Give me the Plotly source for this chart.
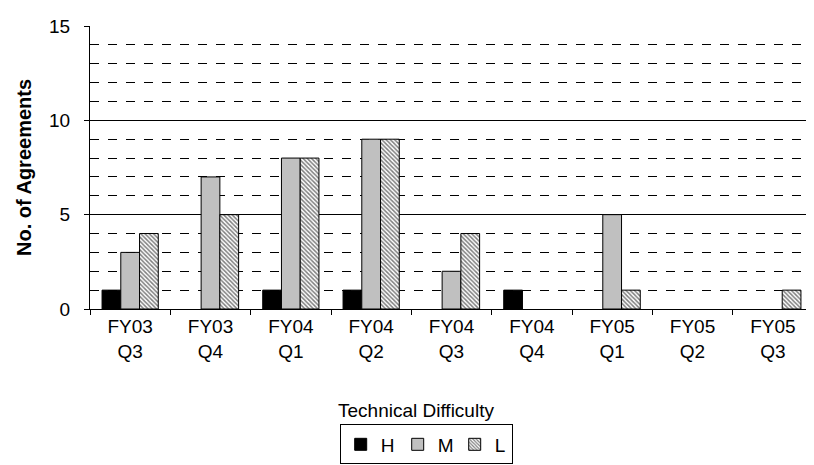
import plotly.graph_objects as go

categories = ["FY03<br>Q3", "FY03<br>Q4", "FY04<br>Q1", "FY04<br>Q2", "FY04<br>Q3",
              "FY04<br>Q4", "FY05<br>Q1", "FY05<br>Q2", "FY05<br>Q3"]
h_values = [1, 0, 1, 1, 0, 1, 0, 0, 0]
m_values = [3, 7, 8, 9, 2, 0, 5, 0, 0]
l_values = [4, 5, 8, 9, 4, 0, 1, 0, 1]


def nz(vals):
    # zero-height bars are not drawn in the reference
    return [v if v else None for v in vals]


font = "Liberation Sans, Arial, sans-serif"

fig = go.Figure()
fig.add_bar(name="H", x=categories, y=nz(h_values),
            marker=dict(color="black", line=dict(color="black", width=1)))
fig.add_bar(name="M", x=categories, y=nz(m_values),
            marker=dict(color="#c0c0c0", line=dict(color="black", width=1)))
fig.add_bar(name="L", x=categories, y=nz(l_values),
            marker=dict(color="white", line=dict(color="black", width=1),
                        pattern=dict(shape="\\", size=3, solidity=0.5,
                                     fgcolor="black", bgcolor="white")))

fig.update_layout(
    width=814, height=465,
    margin=dict(l=82, r=9, t=18, b=154),
    paper_bgcolor="white", plot_bgcolor="white",
    barmode="group", bargap=0.3, bargroupgap=0,
    font=dict(family=font, size=18, color="black"),
    showlegend=True,
    legend=dict(orientation="h", x=0.465, xanchor="center", y=-0.408, yanchor="top",
                bordercolor="black", borderwidth=1, bgcolor="white",
                font=dict(size=19), itemwidth=30, entrywidth=12, tracegroupgap=0),
    annotations=[dict(text="Technical Difficulty", x=0.451, y=-0.36, xref="paper", yref="paper",
                      showarrow=False, font=dict(size=19), xanchor="center", yanchor="middle")],
    xaxis=dict(showline=True, linecolor="black", linewidth=1, ticks="outside", ticklen=5,
               tickson="boundaries", tickcolor="black", showgrid=False,
               tickfont=dict(size=19)),
    yaxis=dict(range=[0, 15], dtick=5, showline=True, linecolor="black", linewidth=1,
               ticks="outside", ticklen=5, tickcolor="black",
               showgrid=True, gridcolor="black", gridwidth=1,
               zeroline=False, tickfont=dict(size=19), ticklabelstandoff=10,
               title=dict(text="<b>No. of Agreements</b>", font=dict(size=20), standoff=12),
               minor=dict(dtick=1, showgrid=True, griddash="dash", gridcolor="black",
                          gridwidth=1, ticks="")),
)

fig.write_html("out.html")
